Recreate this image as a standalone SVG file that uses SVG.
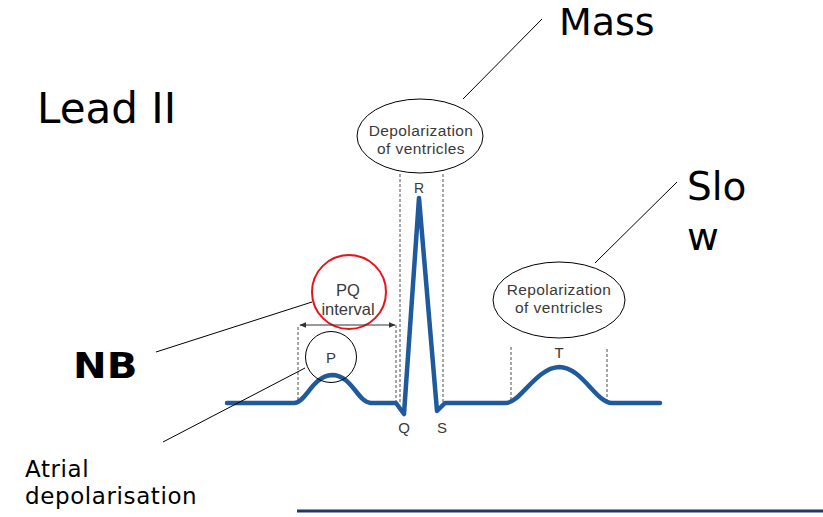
<svg xmlns="http://www.w3.org/2000/svg" width="823" height="517" viewBox="0 0 823 517">
<style>
.big{font-family:"DejaVu Sans","Verdana",sans-serif;fill:#000}
.lbl{font-family:"Liberation Sans",Arial,sans-serif;fill:#3a3a3a;text-anchor:middle}
.dash{stroke:#777;stroke-width:1.3;stroke-dasharray:3 2;fill:none}
.thin{stroke:#000;stroke-width:1;fill:none}
.wave{stroke:#1f5a9c;stroke-width:4.5;fill:none;stroke-linejoin:round;stroke-linecap:round}
</style>
<defs>
<marker id="ah" viewBox="0 0 10 10" refX="9" refY="5" markerWidth="7" markerHeight="7" orient="auto-start-reverse" markerUnits="userSpaceOnUse">
<path d="M0,1 L10,5 L0,9 Z" fill="#333"/>
</marker>
</defs>
<rect width="823" height="517" fill="#fff"/>

<g id="title"><text class="big" x="37" y="123" font-size="42">Lead II</text></g>
<g id="mass"><text class="big" x="559" y="35" font-size="38">Mass</text></g>
<g id="slow"><text class="big" x="687" y="200" font-size="39">Slo</text><text class="big" x="687" y="250" font-size="39">w</text></g>
<g id="nb"><text class="big" transform="translate(73,378) scale(1.15,1)" x="0" y="0" font-size="35" font-weight="bold">NB</text></g>
<g id="atrial"><text class="big" x="25" y="477" font-size="23" letter-spacing="0.6">Atrial</text><text class="big" x="25" y="504" font-size="23" letter-spacing="0.6">depolarisation</text></g>

<g id="ecg">
<line class="dash" x1="298" y1="327" x2="298" y2="403"/>
<line class="dash" x1="396" y1="325" x2="396" y2="401"/>
<line class="dash" x1="400" y1="174" x2="400" y2="402"/>
<line class="dash" x1="443" y1="174" x2="443" y2="402"/>
<line class="dash" x1="511" y1="347" x2="511" y2="401"/>
<line class="dash" x1="607" y1="349" x2="607" y2="401"/>
<path class="wave" d="M227,403 L294,403 C306,403 312,376 332,375 C352,375 358,403 371,403 L396,403 L404,414 L419,198 L437,411 L445,403 L506,403 C520,403 536,368 559,367 C582,367 596,403 612,403 L660,403"/>
<text class="lbl" x="331" y="363" font-size="15">P</text>
<text class="lbl" x="419" y="193" font-size="14">R</text>
<text class="lbl" x="559" y="358" font-size="15">T</text>
<text class="lbl" x="404" y="433" font-size="15">Q</text>
<text class="lbl" x="442" y="433" font-size="15">S</text>
</g>

<g id="depol">
<ellipse cx="420" cy="136" rx="63" ry="37" fill="none" stroke="#000" stroke-width="1"/>
<text class="lbl" x="421" y="136" font-size="15.5" letter-spacing="0.4">Depolarization</text>
<text class="lbl" x="421" y="154" font-size="15.5" letter-spacing="0.4">of ventricles</text>
</g>

<g id="repol">
<ellipse cx="559" cy="300" rx="66" ry="38" fill="none" stroke="#000" stroke-width="1"/>
<text class="lbl" x="559" y="295" font-size="15.5" letter-spacing="0.4">Repolarization</text>
<text class="lbl" x="559" y="313" font-size="15.5" letter-spacing="0.4">of ventricles</text>
</g>

<g id="pq">
<circle cx="349" cy="292" r="37" fill="none" stroke="#e8141c" stroke-width="2"/>
<text class="lbl" x="348" y="296" font-size="16.5">PQ</text>
<text class="lbl" x="348" y="315" font-size="16.5">interval</text>
</g>

<g id="pwave">
<circle cx="331" cy="357" r="25.5" fill="none" stroke="#000" stroke-width="1"/>
</g>

<g id="connectors">
<line x1="300" y1="325" x2="395" y2="325" stroke="#333" stroke-width="1" marker-start="url(#ah)" marker-end="url(#ah)"/>
<line class="thin" x1="542" y1="19" x2="463" y2="99"/>
<line class="thin" x1="677" y1="182" x2="595" y2="263"/>
<line class="thin" x1="156" y1="352" x2="312" y2="302"/>
<line class="thin" x1="163" y1="442" x2="305" y2="368"/>
<line x1="297" y1="511" x2="823" y2="511" stroke="#1f3864" stroke-width="3"/>
</g>
</svg>
